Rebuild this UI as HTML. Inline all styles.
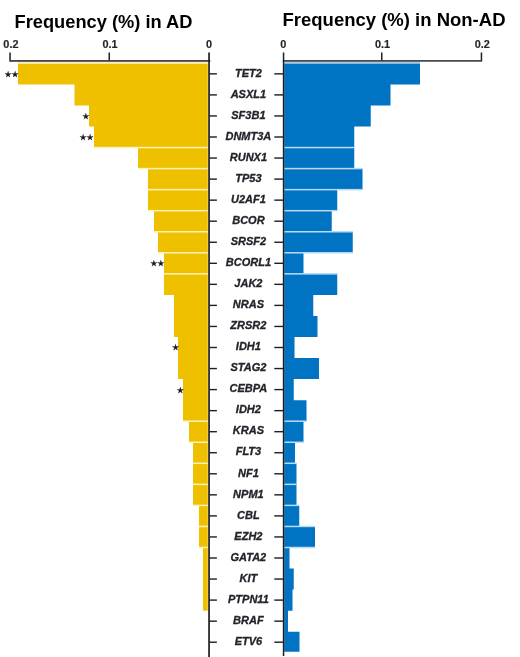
<!DOCTYPE html>
<html lang="en"><head><meta charset="utf-8"><title>Mutation frequency in AD vs Non-AD</title>
<style>
html,body{margin:0;padding:0;background:#fff;}
body{width:520px;height:657px;overflow:hidden;}
svg{display:block;}
.t{font-family:"Liberation Sans",Arial,Helvetica,sans-serif;font-weight:bold;fill:#000;}
.ax{font-family:"Liberation Sans",Arial,Helvetica,sans-serif;font-weight:bold;font-size:10.9px;fill:#23232b;stroke:#23232b;stroke-width:0.15px;text-anchor:middle;}
.g{font-family:"Liberation Sans",Arial,Helvetica,sans-serif;font-weight:bold;font-style:italic;font-size:11px;fill:#23232b;stroke:#23232b;stroke-width:0.3px;text-anchor:middle;}
.s{font-family:"DejaVu Sans",sans-serif;font-size:8px;fill:#15151a;stroke:#15151a;stroke-width:0.3px;letter-spacing:-0.2px;text-anchor:middle;}
</style></head><body>
<svg width="520" height="657" viewBox="0 0 520 657">
<rect width="520" height="657" fill="#fff"/>
<text class="t" x="14.5" y="28" font-size="18.3px" textLength="178" lengthAdjust="spacingAndGlyphs">Frequency (%) in AD</text>
<text class="t" x="282.5" y="26.4" font-size="18.3px" textLength="223" lengthAdjust="spacingAndGlyphs">Frequency (%) in Non-AD</text>
<g fill="#EFC000">
<path d="M207.80 63.35L18.00 63.35 L18.00 84.40L74.50 84.40 L74.50 105.45L89.00 105.45 L89.00 126.50L94.00 126.50 L94.00 147.55L207.80 147.55Z"/>
<path d="M207.80 147.55L138.00 147.55 L138.00 168.60L207.80 168.60Z"/>
<path d="M207.80 168.60L148.00 168.60 L148.00 189.65L207.80 189.65Z"/>
<path d="M207.80 189.65L148.00 189.65 L148.00 210.70L207.80 210.70Z"/>
<path d="M207.80 210.70L154.00 210.70 L154.00 231.75L207.80 231.75Z"/>
<path d="M207.80 231.75L158.00 231.75 L158.00 252.80L207.80 252.80Z"/>
<path d="M207.80 252.80L164.00 252.80 L164.00 273.85L207.80 273.85Z"/>
<path d="M207.80 273.85L164.00 273.85 L164.00 294.90L174.00 294.90 L174.00 315.95L174.00 315.95 L174.00 337.00L178.00 337.00 L178.00 358.05L178.00 358.05 L178.00 379.10L183.00 379.10 L183.00 400.15L183.00 400.15 L183.00 421.20L207.80 421.20Z"/>
<path d="M207.80 421.20L189.00 421.20 L189.00 442.25L207.80 442.25Z"/>
<path d="M207.80 442.25L193.00 442.25 L193.00 463.30L207.80 463.30Z"/>
<path d="M207.80 463.30L193.00 463.30 L193.00 484.35L207.80 484.35Z"/>
<path d="M207.80 484.35L193.00 484.35 L193.00 505.40L207.80 505.40Z"/>
<path d="M207.80 505.40L199.00 505.40 L199.00 526.45L207.80 526.45Z"/>
<path d="M207.80 526.45L199.00 526.45 L199.00 547.50L207.80 547.50Z"/>
<path d="M207.80 547.50L203.00 547.50 L203.00 568.55L203.00 568.55 L203.00 589.60L203.00 589.60 L203.00 610.65L207.80 610.65Z"/>
</g>
<g fill="#0073C2">
<path d="M284.20 63.35L420.00 63.35 L420.00 84.40L390.50 84.40 L390.50 105.45L370.75 105.45 L370.75 126.50L354.25 126.50 L354.25 147.55L284.20 147.55Z"/>
<path d="M284.20 147.55L354.25 147.55 L354.25 168.60L284.20 168.60Z"/>
<path d="M284.20 168.60L362.50 168.60 L362.50 189.65L284.20 189.65Z"/>
<path d="M284.20 189.65L337.25 189.65 L337.25 210.70L284.20 210.70Z"/>
<path d="M284.20 210.70L331.75 210.70 L331.75 231.75L284.20 231.75Z"/>
<path d="M284.20 231.75L352.75 231.75 L352.75 252.80L284.20 252.80Z"/>
<path d="M284.20 252.80L303.50 252.80 L303.50 273.85L284.20 273.85Z"/>
<path d="M284.20 273.85L337.25 273.85 L337.25 294.90L313.25 294.90 L313.25 315.95L317.50 315.95 L317.50 337.00L294.50 337.00 L294.50 358.05L319.00 358.05 L319.00 379.10L293.75 379.10 L293.75 400.15L306.50 400.15 L306.50 421.20L284.20 421.20Z"/>
<path d="M284.20 421.20L303.50 421.20 L303.50 442.25L284.20 442.25Z"/>
<path d="M284.20 442.25L295.00 442.25 L295.00 463.30L284.20 463.30Z"/>
<path d="M284.20 463.30L296.50 463.30 L296.50 484.35L284.20 484.35Z"/>
<path d="M284.20 484.35L296.50 484.35 L296.50 505.40L284.20 505.40Z"/>
<path d="M284.20 505.40L299.25 505.40 L299.25 526.45L284.20 526.45Z"/>
<path d="M284.20 526.45L315.00 526.45 L315.00 547.50L284.20 547.50Z"/>
<path d="M284.20 547.50L289.50 547.50 L289.50 568.55L293.75 568.55 L293.75 589.60L292.50 589.60 L292.50 610.65L288.00 610.65 L288.00 631.70L299.50 631.70 L299.50 651.80L284.20 651.80Z"/>
</g>
<rect x="94.00" y="146.80" width="113.80" height="1.5" fill="#fdf2b8"/>
<rect x="284.20" y="146.80" width="70.05" height="1.5" fill="#b8dcf8"/>
<rect x="138.00" y="167.85" width="69.80" height="1.5" fill="#fdf2b8"/>
<rect x="284.20" y="167.85" width="78.30" height="1.5" fill="#b8dcf8"/>
<rect x="148.00" y="188.90" width="59.80" height="1.5" fill="#fdf2b8"/>
<rect x="284.20" y="188.90" width="78.30" height="1.5" fill="#b8dcf8"/>
<rect x="148.00" y="209.95" width="59.80" height="1.5" fill="#fdf2b8"/>
<rect x="284.20" y="209.95" width="53.05" height="1.5" fill="#b8dcf8"/>
<rect x="154.00" y="231.00" width="53.80" height="1.5" fill="#fdf2b8"/>
<rect x="284.20" y="231.00" width="68.55" height="1.5" fill="#b8dcf8"/>
<rect x="158.00" y="252.05" width="49.80" height="1.5" fill="#fdf2b8"/>
<rect x="284.20" y="252.05" width="68.55" height="1.5" fill="#b8dcf8"/>
<rect x="164.00" y="273.10" width="43.80" height="1.5" fill="#fdf2b8"/>
<rect x="284.20" y="273.10" width="53.05" height="1.5" fill="#b8dcf8"/>
<rect x="183.00" y="420.45" width="24.80" height="1.5" fill="#fdf2b8"/>
<rect x="284.20" y="420.45" width="22.30" height="1.5" fill="#b8dcf8"/>
<rect x="189.00" y="441.50" width="18.80" height="1.5" fill="#fdf2b8"/>
<rect x="284.20" y="441.50" width="19.30" height="1.5" fill="#b8dcf8"/>
<rect x="193.00" y="462.55" width="14.80" height="1.5" fill="#fdf2b8"/>
<rect x="284.20" y="462.55" width="12.30" height="1.5" fill="#b8dcf8"/>
<rect x="193.00" y="483.60" width="14.80" height="1.5" fill="#fdf2b8"/>
<rect x="284.20" y="483.60" width="12.30" height="1.5" fill="#b8dcf8"/>
<rect x="193.00" y="504.65" width="14.80" height="1.5" fill="#fdf2b8"/>
<rect x="284.20" y="504.65" width="15.05" height="1.5" fill="#b8dcf8"/>
<rect x="199.00" y="525.70" width="8.80" height="1.5" fill="#fdf2b8"/>
<rect x="284.20" y="525.70" width="30.80" height="1.5" fill="#b8dcf8"/>
<rect x="199.00" y="546.75" width="8.80" height="1.5" fill="#fdf2b8"/>
<rect x="284.20" y="546.75" width="30.80" height="1.5" fill="#b8dcf8"/>
<rect x="284.2" y="61.5" width="135.8" height="2.2" fill="#a9c6e2"/>
<rect x="18" y="61.8" width="189.8" height="1.9" fill="#f9efc0"/>
<g fill="#1f1f24">
<rect x="9.3" y="60.2" width="201" height="1.5"/>
<rect x="9.3" y="52.5" width="1.5" height="8"/>
<rect x="108.5" y="52.5" width="1.5" height="8"/>
<rect x="208.2" y="52.5" width="1.7" height="604.5"/>
<rect x="282.8" y="60.2" width="199.4" height="1.4"/>
<rect x="381.0" y="52.5" width="1.5" height="8"/>
<rect x="480.7" y="52.5" width="1.5" height="8"/>
<rect x="282.8" y="52.5" width="1.5" height="603.5"/>
<rect x="209.5" y="73.15" width="7.4" height="1.4"/>
<rect x="274.3" y="73.15" width="8.7" height="1.4"/>
<rect x="209.5" y="94.20" width="7.4" height="1.4"/>
<rect x="274.3" y="94.20" width="8.7" height="1.4"/>
<rect x="209.5" y="115.25" width="7.4" height="1.4"/>
<rect x="274.3" y="115.25" width="8.7" height="1.4"/>
<rect x="209.5" y="136.30" width="7.4" height="1.4"/>
<rect x="274.3" y="136.30" width="8.7" height="1.4"/>
<rect x="209.5" y="157.35" width="7.4" height="1.4"/>
<rect x="274.3" y="157.35" width="8.7" height="1.4"/>
<rect x="209.5" y="178.40" width="7.4" height="1.4"/>
<rect x="274.3" y="178.40" width="8.7" height="1.4"/>
<rect x="209.5" y="199.45" width="7.4" height="1.4"/>
<rect x="274.3" y="199.45" width="8.7" height="1.4"/>
<rect x="209.5" y="220.50" width="7.4" height="1.4"/>
<rect x="274.3" y="220.50" width="8.7" height="1.4"/>
<rect x="209.5" y="241.55" width="7.4" height="1.4"/>
<rect x="274.3" y="241.55" width="8.7" height="1.4"/>
<rect x="209.5" y="262.60" width="7.4" height="1.4"/>
<rect x="274.3" y="262.60" width="8.7" height="1.4"/>
<rect x="209.5" y="283.65" width="7.4" height="1.4"/>
<rect x="274.3" y="283.65" width="8.7" height="1.4"/>
<rect x="209.5" y="304.70" width="7.4" height="1.4"/>
<rect x="274.3" y="304.70" width="8.7" height="1.4"/>
<rect x="209.5" y="325.75" width="7.4" height="1.4"/>
<rect x="274.3" y="325.75" width="8.7" height="1.4"/>
<rect x="209.5" y="346.80" width="7.4" height="1.4"/>
<rect x="274.3" y="346.80" width="8.7" height="1.4"/>
<rect x="209.5" y="367.85" width="7.4" height="1.4"/>
<rect x="274.3" y="367.85" width="8.7" height="1.4"/>
<rect x="209.5" y="388.90" width="7.4" height="1.4"/>
<rect x="274.3" y="388.90" width="8.7" height="1.4"/>
<rect x="209.5" y="409.95" width="7.4" height="1.4"/>
<rect x="274.3" y="409.95" width="8.7" height="1.4"/>
<rect x="209.5" y="431.00" width="7.4" height="1.4"/>
<rect x="274.3" y="431.00" width="8.7" height="1.4"/>
<rect x="209.5" y="452.05" width="7.4" height="1.4"/>
<rect x="274.3" y="452.05" width="8.7" height="1.4"/>
<rect x="209.5" y="473.10" width="7.4" height="1.4"/>
<rect x="274.3" y="473.10" width="8.7" height="1.4"/>
<rect x="209.5" y="494.15" width="7.4" height="1.4"/>
<rect x="274.3" y="494.15" width="8.7" height="1.4"/>
<rect x="209.5" y="515.20" width="7.4" height="1.4"/>
<rect x="274.3" y="515.20" width="8.7" height="1.4"/>
<rect x="209.5" y="536.25" width="7.4" height="1.4"/>
<rect x="274.3" y="536.25" width="8.7" height="1.4"/>
<rect x="209.5" y="557.30" width="7.4" height="1.4"/>
<rect x="274.3" y="557.30" width="8.7" height="1.4"/>
<rect x="209.5" y="578.35" width="7.4" height="1.4"/>
<rect x="274.3" y="578.35" width="8.7" height="1.4"/>
<rect x="209.5" y="599.40" width="7.4" height="1.4"/>
<rect x="274.3" y="599.40" width="8.7" height="1.4"/>
<rect x="209.5" y="620.45" width="7.4" height="1.4"/>
<rect x="274.3" y="620.45" width="8.7" height="1.4"/>
<rect x="209.5" y="641.50" width="7.4" height="1.4"/>
<rect x="274.3" y="641.50" width="8.7" height="1.4"/>
</g>
<text class="ax" x="10.9" y="48.2">0.2</text>
<text class="ax" x="110.0" y="48.2">0.1</text>
<text class="ax" x="209.0" y="48.2">0</text>
<text class="ax" x="283.3" y="48.2">0</text>
<text class="ax" x="382.5" y="48.2">0.1</text>
<text class="ax" x="482.3" y="48.2">0.2</text>
<text class="g" x="248.4" y="76.55">TET2</text>
<text class="g" x="248.4" y="97.60">ASXL1</text>
<text class="g" x="248.4" y="118.65">SF3B1</text>
<text class="g" x="248.4" y="139.70">DNMT3A</text>
<text class="g" x="248.4" y="160.75">RUNX1</text>
<text class="g" x="248.4" y="181.80">TP53</text>
<text class="g" x="248.4" y="202.85">U2AF1</text>
<text class="g" x="248.4" y="223.90">BCOR</text>
<text class="g" x="248.4" y="244.95">SRSF2</text>
<text class="g" x="248.4" y="266.00">BCORL1</text>
<text class="g" x="248.4" y="287.05">JAK2</text>
<text class="g" x="248.4" y="308.10">NRAS</text>
<text class="g" x="248.4" y="329.15">ZRSR2</text>
<text class="g" x="248.4" y="350.20">IDH1</text>
<text class="g" x="248.4" y="371.25">STAG2</text>
<text class="g" x="248.4" y="392.30">CEBPA</text>
<text class="g" x="248.4" y="413.35">IDH2</text>
<text class="g" x="248.4" y="434.40">KRAS</text>
<text class="g" x="248.4" y="455.45">FLT3</text>
<text class="g" x="248.4" y="476.50">NF1</text>
<text class="g" x="248.4" y="497.55">NPM1</text>
<text class="g" x="248.4" y="518.60">CBL</text>
<text class="g" x="248.4" y="539.65">EZH2</text>
<text class="g" x="248.4" y="560.70">GATA2</text>
<text class="g" x="248.4" y="581.75">KIT</text>
<text class="g" x="248.4" y="602.80">PTPN11</text>
<text class="g" x="248.4" y="623.85">BRAF</text>
<text class="g" x="248.4" y="644.90">ETV6</text>
<text class="s" x="11.6" y="76.75">★★</text>
<text class="s" x="85.7" y="118.85">★</text>
<text class="s" x="86.6" y="139.90">★★</text>
<text class="s" x="157.2" y="266.20">★★</text>
<text class="s" x="175.4" y="350.40">★</text>
<text class="s" x="180.2" y="392.50">★</text>
</svg>
</body></html>
